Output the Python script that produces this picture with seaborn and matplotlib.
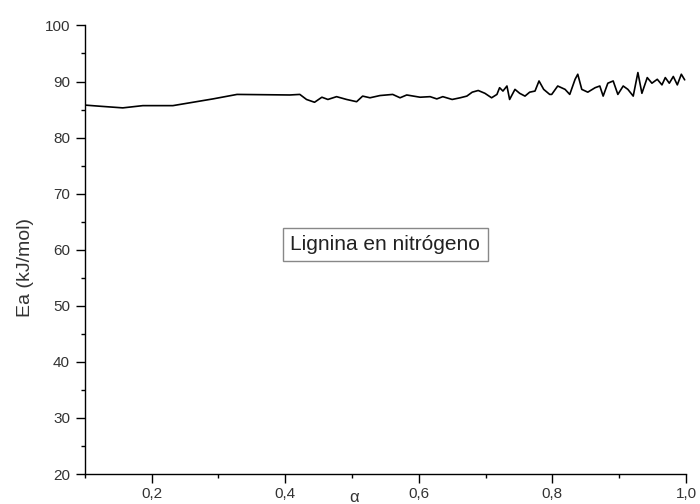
import numpy as np
import pandas as pd
import seaborn as sns
import matplotlib.pyplot as plt
from matplotlib.ticker import MultipleLocator, FuncFormatter

# data
alpha = [0.100, 0.122, 0.157, 0.187, 0.232, 0.257, 0.292, 0.328, 0.407, 0.422,
         0.432, 0.444, 0.455, 0.464, 0.477, 0.492, 0.507, 0.516, 0.527, 0.542,
         0.561, 0.572, 0.582, 0.602, 0.617, 0.627, 0.636, 0.650, 0.662, 0.672,
         0.680, 0.689, 0.699, 0.709, 0.717, 0.721, 0.726, 0.732, 0.736, 0.744,
         0.751, 0.759, 0.766, 0.774, 0.780, 0.787, 0.796, 0.799, 0.808, 0.819,
         0.826, 0.834, 0.838, 0.844, 0.853, 0.864, 0.871, 0.876, 0.883, 0.891,
         0.898, 0.906, 0.913, 0.921, 0.928, 0.934, 0.942, 0.949, 0.957, 0.964,
         0.969, 0.975, 0.981, 0.987, 0.993, 0.998]
ea = [85.8, 85.6, 85.3, 85.7, 85.7, 86.2, 86.9, 87.7, 87.6, 87.7,
      86.8, 86.3, 87.2, 86.8, 87.3, 86.8, 86.4, 87.4, 87.1, 87.5,
      87.7, 87.1, 87.6, 87.2, 87.3, 86.9, 87.3, 86.8, 87.1, 87.4,
      88.1, 88.4, 87.9, 87.1, 87.7, 88.9, 88.3, 89.2, 86.8, 88.6,
      87.9, 87.4, 88.1, 88.3, 90.1, 88.6, 87.7, 87.7, 89.2, 88.6,
      87.7, 90.4, 91.3, 88.6, 88.1, 88.9, 89.2, 87.4, 89.7, 90.1,
      87.7, 89.2, 88.6, 87.4, 91.6, 87.9, 90.7, 89.7, 90.4, 89.4,
      90.7, 89.7, 90.9, 89.4, 91.3, 90.3]

df = pd.DataFrame({'alpha': alpha, 'Ea': ea})

sns.set_style('ticks')
plt.rcParams['font.family'] = ['Liberation Sans', 'DejaVu Sans']

fig = plt.figure(figsize=(7, 5.04), dpi=100)
ax = fig.add_axes([0.121, 0.0595, 0.859, 0.89])

sns.lineplot(data=df, x='alpha', y='Ea', color='black', linewidth=1.2,
             estimator=None, ax=ax)

ax.set_xlim(0.1, 1.0)
ax.set_ylim(20, 100)
ax.xaxis.set_major_locator(MultipleLocator(0.2))
ax.xaxis.set_minor_locator(MultipleLocator(0.1))
ax.yaxis.set_major_locator(MultipleLocator(10))
ax.yaxis.set_minor_locator(MultipleLocator(5))
ax.xaxis.set_major_formatter(FuncFormatter(lambda v, p: f'{v:.1f}'.replace('.', ',')))
ax.tick_params(which='major', direction='out', length=6.5, width=1.0,
               colors='black', labelcolor='#333333')
ax.tick_params(which='minor', direction='out', length=3, width=1.0, colors='black')
ax.tick_params(axis='x', which='major', labelsize=11, pad=3)
ax.tick_params(axis='y', which='major', labelsize=11, pad=4)

for s in ['top', 'right']:
    ax.spines[s].set_visible(False)
for s in ['left', 'bottom']:
    ax.spines[s].set_linewidth(1.0)
    ax.spines[s].set_color('black')

ax.set_xlabel('α', fontsize=12, color='#333333')
ax.set_ylabel('Ea (kJ/mol)', fontsize=14, color='#333333')
ax.xaxis.set_label_coords(0.448, -0.036)
ax.yaxis.set_label_coords(-0.085, 0.46)

ax.text(0.5, 0.512, 'Lignina en nitrógeno', transform=ax.transAxes,
        ha='center', va='center', fontsize=15, color='#222222',
        bbox=dict(boxstyle='square,pad=0.35', facecolor='white',
                  edgecolor='#888888', linewidth=1.0))

fig.savefig('out.png', dpi=100)
